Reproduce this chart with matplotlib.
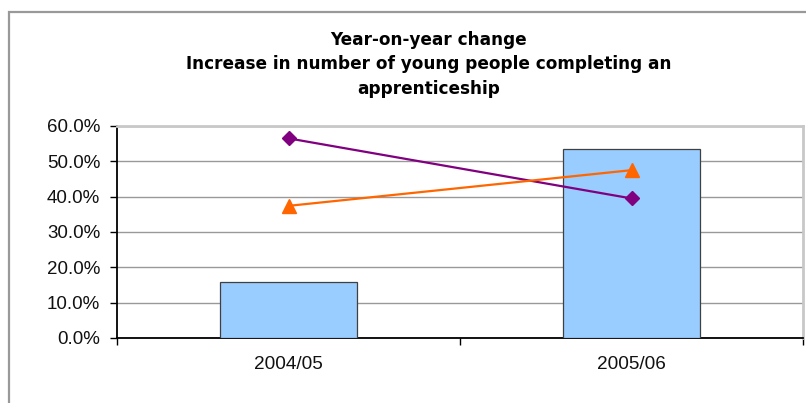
import matplotlib
matplotlib.use("Agg")
import matplotlib.pyplot as plt
from matplotlib.ticker import FuncFormatter, MultipleLocator
from matplotlib.patches import Rectangle

categories = ["2004/05", "2005/06"]
bar_values = [15.8, 53.4]
purple_values = [56.5, 39.5]
orange_values = [37.4, 47.5]
title_lines = ["Year-on-year change",
               "Increase in number of young people completing an",
               "apprenticeship"]

W, H = 806, 403
fig = plt.figure(figsize=(W / 100, H / 100), dpi=100)
fig.patch.set_facecolor("white")

# outer chart border (left + top visible)
fig.add_artist(Rectangle((9 / W, -0.1), 1.2, (H - 12) / H + 0.1, transform=fig.transFigure,
                         fill=False, edgecolor="#999999", linewidth=1.6))

ax = fig.add_axes([117 / W, 1 - 338 / H, (803 - 117) / W, (338 - 126) / H])
x = list(range(len(categories)))
ax.bar(x, bar_values, width=0.4, color="#99CCFF", edgecolor="#404040", linewidth=0.9, zorder=3)
ax.plot(x, purple_values, color="#800080", linewidth=1.6, marker="D", markersize=7.5,
        markerfacecolor="#800080", markeredgecolor="#800080", zorder=4)
ax.plot(x, orange_values, color="#FF6600", linewidth=1.6, marker="^", markersize=10,
        markerfacecolor="#FF6600", markeredgecolor="#FF6600", zorder=4)

ax.set_xlim(-0.5, len(categories) - 0.5)
ax.set_ylim(0, 60)
ax.yaxis.set_major_locator(MultipleLocator(10))
ax.yaxis.set_major_formatter(FuncFormatter(lambda v, p: f"{v:.1f}%"))
ax.set_xticks(x)
ax.set_xticklabels(categories)
ax.set_xticks([-0.5, 0.5, 1.5], minor=True)
ax.tick_params(axis="x", which="major", length=0, pad=13, labelsize=13.7)
ax.tick_params(axis="x", which="minor", length=5, width=1, color="black", direction="out")
ax.tick_params(axis="y", length=5, width=1, color="black", direction="out", pad=7, labelsize=13.5)
for lab in ax.get_xticklabels() + ax.get_yticklabels():
    lab.set_fontfamily("Liberation Sans")
    lab.set_color("#111111")

ax.grid(axis="y", color="#999999", linewidth=1, zorder=0)
ax.set_axisbelow(True)
for s in ["top", "right"]:
    ax.spines[s].set_color("#c8c8c8")
    ax.spines[s].set_linewidth(2)
ax.spines["left"].set_color("black")
ax.spines["bottom"].set_color("black")
ax.spines["left"].set_linewidth(1.3)
ax.spines["bottom"].set_linewidth(1.3)

ys = [40, 64, 89]
for t, yy in zip(title_lines, ys):
    fig.text(429 / W, 1 - yy / H, t, ha="center", va="center", fontsize=12.2,
             fontweight="bold", family="DejaVu Sans", color="black")

fig.savefig("out.png", dpi=100)
